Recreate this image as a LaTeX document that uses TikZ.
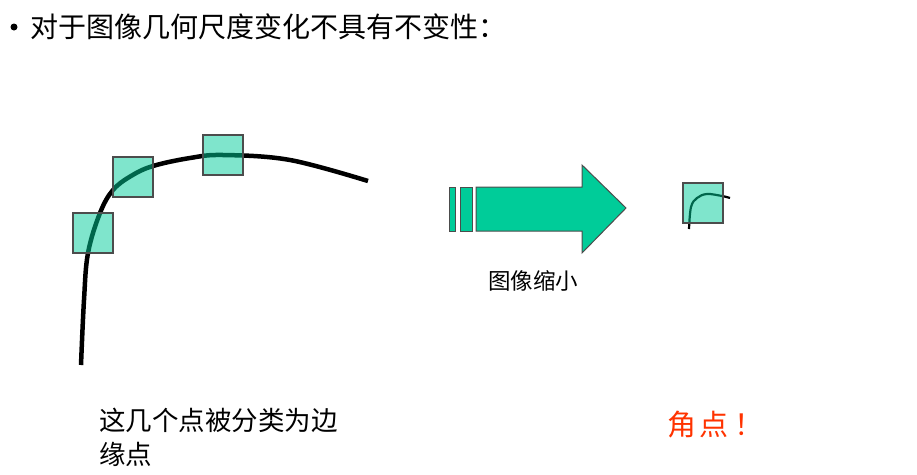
\documentclass[tikz,border=0pt]{standalone}
\usepackage{fontspec}
\setmainfont{Noto Sans CJK SC}
\usetikzlibrary{positioning}
\definecolor{teal}{HTML}{00CC99}
\definecolor{redtxt}{HTML}{FF3300}
\tikzset{
	patch/.style = {draw = black!70, line width = 1.2pt, fill = teal, fill opacity = 0.5},
	arrowpart/.style = {draw = black!70, line width = 1pt, fill = teal},
	label/.style = {inner sep = 0pt, anchor = west}
}
\begin{document}
\begin{tikzpicture} [x = 1pt, y = -1pt]
	\useasboundingbox (0,0) rectangle (917,474);
	% title line
	\node [label, font = \fontsize{28}{32}\selectfont] (title) at (30,27) {对于图像几何尺度变化不具有不变性：};
	\fill (14,27) circle (3.5pt);
	% edge curve
	\draw [line width = 4.5pt, smooth, tension = 0.6] plot coordinates {(81,365) (84,300) (88,253) (100,213) (113,190) (131,176) (153,166) (190,158) (223,155) (290,160) (368,181)};
	\draw [patch] (73,213) rectangle (113,253);
	\draw [patch] (113,157) rectangle (153,197);
	\draw [patch] (203,135) rectangle (243,175);
	% shrink arrow
	\draw [arrowpart] (449,187) rectangle (455,231);
	\draw [arrowpart] (460,187) rectangle (472,231);
	\draw [arrowpart] (476,187) -- (582,187) -- (582,165) -- (626,208) -- (582,253) -- (582,231) -- (476,231) -- cycle;
	\node [font = \fontsize{22.5}{26}\selectfont, inner sep = 0pt] (shrink) at (533,281) {图像缩小};
	% small corner
	\draw [line width = 2.2pt, smooth, tension = 0.6] plot coordinates {(689,229) (691,207) (697,198) (707,194) (722,196) (730,198)};
	\draw [patch] (683,183) rectangle (723,223);
	% bottom texts
	\node [label, font = \fontsize{26.5}{34}\selectfont, align = left] (edge) at (99,437) {这几个点被分类为边\\缘点};
	\node [label, font = \fontsize{29}{32}\selectfont, text = redtxt] (corner) at (667,425) {角\hspace{3pt}点\hspace{6pt}！};
\end{tikzpicture}
\end{document}
